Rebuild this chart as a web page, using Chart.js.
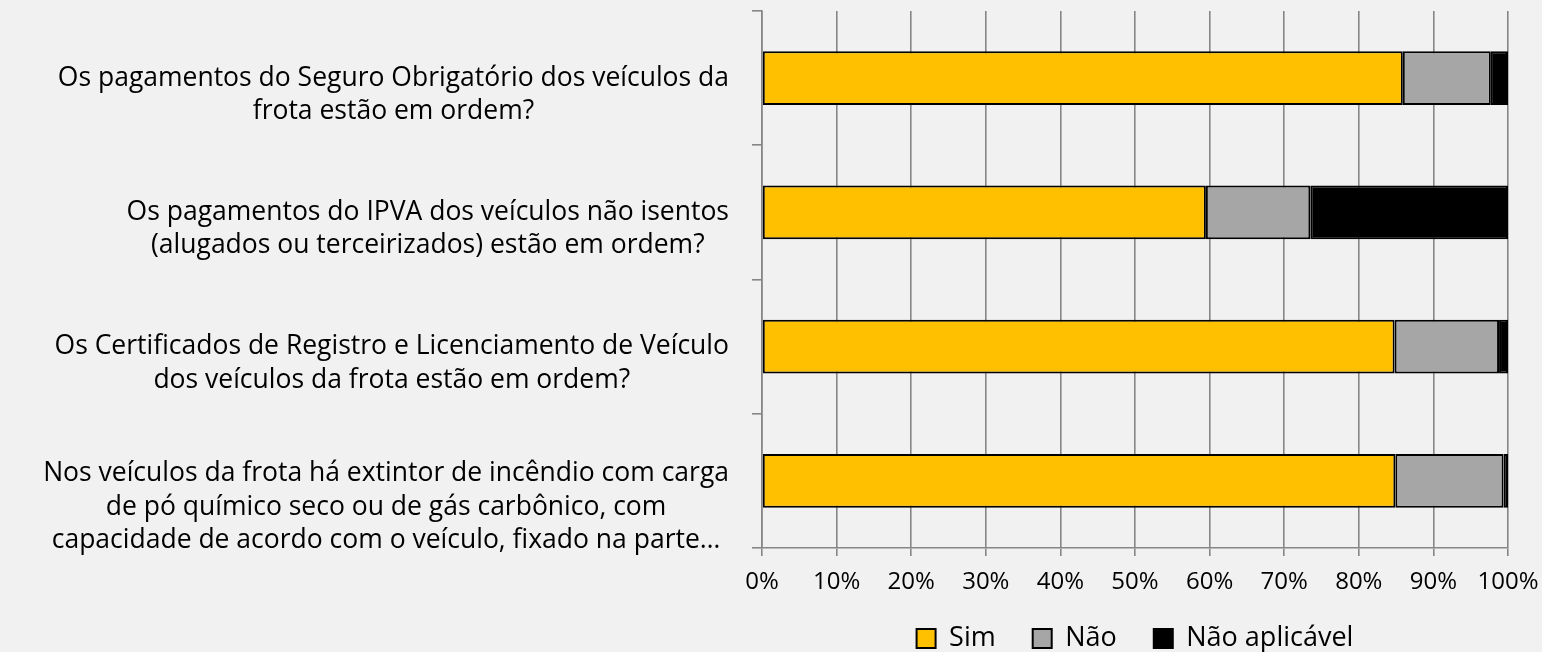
<!DOCTYPE html>
<html>
<head>
<meta charset="utf-8">
<script src="https://cdn.jsdelivr.net/npm/chart.js@4.4.1/dist/chart.umd.min.js"></script>
<style>
  html, body { margin: 0; padding: 0; background: #f1f1f1; }
  #wrap { width: 1542px; height: 652px; position: relative; }
</style>
</head>
<body>
<div id="wrap"><canvas id="chart"></canvas></div>
<script>
// category labels (each one split into its lines)
const questions = [
    ['Os pagamentos do Seguro Obrigatório dos veículos da', 'frota estão em ordem?'],
    ['Os pagamentos do IPVA dos veículos não isentos', '(alugados ou terceirizados) estão em ordem?'],
    ['Os Certificados de Registro e Licenciamento de Veículo', 'dos veículos da frota estão em ordem?'],
    ['Nos veículos da frota há extintor de incêndio com carga', 'de pó químico seco ou de gás carbônico, com', 'capacidade de acordo com o veículo, fixado na parte…']
];
const seriesNames = ['Sim', 'Não', 'Não aplicável'];
const simValues = [85.9, 59.5, 84.8, 84.9];
const naoValues = [11.8, 14.0, 14.0, 14.5];
const naValues  = [2.3, 26.5, 1.2, 0.6];

const FONT = "'Open Sans', sans-serif";
const AXIS_GREY = '#868686';

// draws the category labels: block right-aligned, each line centered in its block
const questionLabels = {
    id: 'questionLabels',
    afterDraw(chart) {
        const s = chart.scales.y;
        const ctx = chart.ctx;
        const lineH = 33.5;
        ctx.save();
        ctx.font = '26.5px ' + FONT;
        ctx.fillStyle = '#000';
        ctx.textAlign = 'center';
        ctx.textBaseline = 'middle';
        questions.forEach((lines, i) => {
            const widest = Math.max(...lines.map(l => ctx.measureText(l).width));
            const cx = s.right - 33 - widest / 2;
            // Excel puts the first line about level with the bar
            const y0 = s.getPixelForValue(i) - (lines.length - 2) * 7;
            lines.forEach((l, j) => ctx.fillText(l, cx, y0 + j * lineH));
        });
        ctx.restore();
    }
};

// let the x tick labels hang below their (short) box without being clipped
const freeTickLabels = {
    id: 'freeTickLabels',
    afterLayout(chart) {
        chart.scales.x.bottom += 20;
    }
};

new Chart(document.getElementById('chart').getContext('2d'), {
    type: 'bar',
    data: {
        labels: questions.map(q => q.join(' ')),
        datasets: [
            { label: seriesNames[0], data: simValues, backgroundColor: '#ffc000' },
            { label: seriesNames[1], data: naoValues, backgroundColor: '#a6a6a6' },
            { label: seriesNames[2], data: naValues,  backgroundColor: '#000000' }
        ].map(ds => Object.assign(ds, {
            borderColor: '#000',
            borderWidth: 2,
            borderSkipped: false,
            barPercentage: 0.4,
            categoryPercentage: 1
        }))
    },
    options: {
        indexAxis: 'y',
        responsive: true,
        maintainAspectRatio: false,
        animation: false,
        layout: { padding: { top: 11, right: 34, left: 0, bottom: -10 } },
        scales: {
            x: {
                stacked: true,
                min: 0,
                max: 100,
                ticks: {
                    stepSize: 10,
                    padding: 12,
                    color: '#000',
                    font: { family: FONT, size: 24 },
                    callback: v => v + '%'
                },
                grid: { color: AXIS_GREY, lineWidth: 1.6, tickLength: 8 },
                border: { color: AXIS_GREY, width: 1.6 },
                afterFit: s => { s.height = 40; s.paddingLeft = 0; s.paddingRight = 0; }
            },
            y: {
                stacked: true,
                ticks: { display: false },
                grid: { drawOnChartArea: false, color: AXIS_GREY, lineWidth: 1.6, tickLength: 10, offset: true },
                border: { color: AXIS_GREY, width: 1.6 },
                afterFit: s => { s.width = 762; }
            }
        },
        plugins: {
            legend: {
                position: 'bottom',
                fullSize: false,
                labels: {
                    boxWidth: 19,
                    boxHeight: 19,
                    padding: 37,
                    color: '#000',
                    font: { family: FONT, size: 27 }
                }
            },
            tooltip: { enabled: false }
        }
    },
    plugins: [questionLabels, freeTickLabels]
});
</script>
</body>
</html>
